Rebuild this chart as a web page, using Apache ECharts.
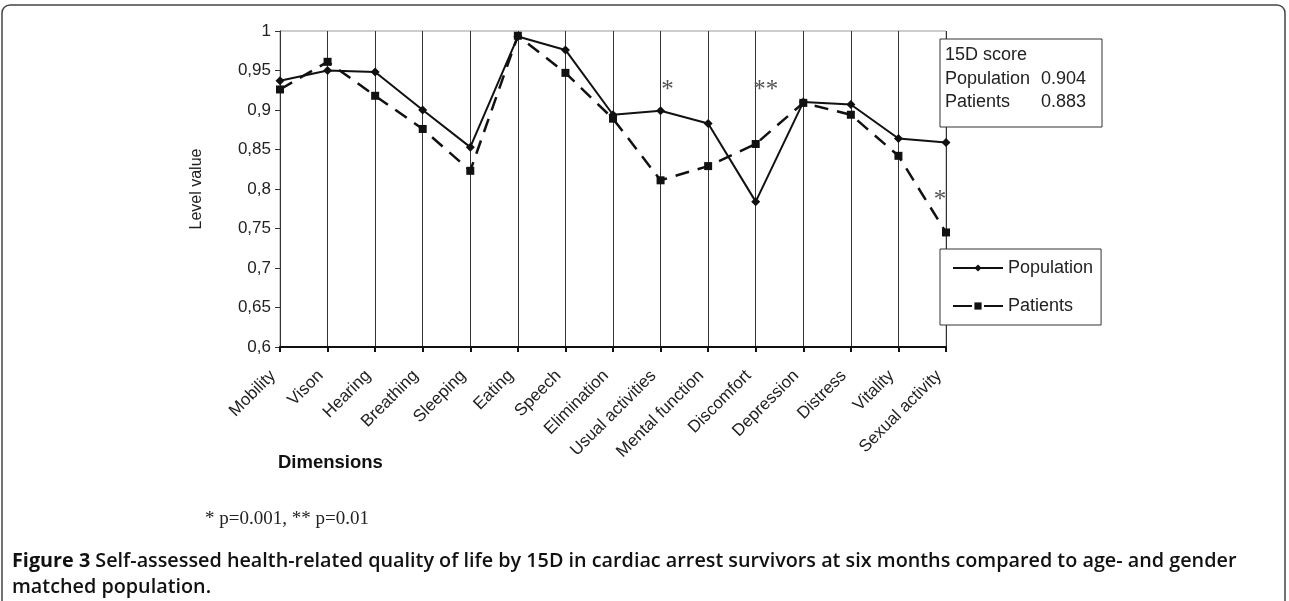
<!DOCTYPE html>
<html>
<head>
<meta charset="utf-8">
<script src="https://cdn.jsdelivr.net/npm/echarts@6/dist/echarts.min.js"></script>
<style>
html,body{margin:0;padding:0;background:#fff;}
#chart{width:1289px;height:601px;}
</style>
</head>
<body>
<div id="chart"></div>
<script>
var categories = ['Mobility','Vison','Hearing','Breathing','Sleeping','Eating','Speech','Elimination','Usual activities','Mental function','Discomfort','Depression','Distress','Vitality','Sexual activity'];
var population = [0.937,0.950,0.948,0.900,0.853,0.993,0.976,0.894,0.899,0.883,0.784,0.910,0.907,0.864,0.859];
var patients   = [0.926,0.961,0.918,0.876,0.823,0.994,0.947,0.889,0.811,0.829,0.857,0.909,0.894,0.842,0.745];
var scoreTitle = '15D score';
var scoreNames = ['Population','Patients'];
var scoreValues = ['0.904','0.883'];
var footnote = '* p=0.001, ** p=0.01';
var captionLead = 'Figure 3';
var caption1 = ' Self-assessed health-related quality of life by 15D in cardiac arrest survivors at six months compared to age- and gender';
var caption2 = 'matched population.';

var chart = echarts.init(document.getElementById('chart'), null, {renderer:'canvas'});
var sans = 'Liberation Sans, Arial, sans-serif';
var capFont = 'Open Sans, Noto Sans, sans-serif';
var starLabel = {show:true,color:'#555',fontSize:25,fontFamily:'Liberation Serif, serif',formatter:function(p){return p.name;}};
var option = {
  animation:false,
  backgroundColor:'#fff',
  grid:{left:280,right:343,top:31,bottom:254,show:true,borderColor:'#999',borderWidth:1},
  xAxis:{
    type:'category', data:categories, boundaryGap:false,
    axisLine:{lineStyle:{color:'#111',width:2}},
    axisTick:{show:true,length:5,lineStyle:{color:'#111',width:2}},
    splitLine:{show:true,lineStyle:{color:'#333',width:1}},
    axisLabel:{rotate:45,fontSize:17,color:'#222',fontFamily:sans,margin:19,interval:0,padding:[0,10,0,0]}
  },
  yAxis:{
    type:'value', min:0.6, max:1, interval:0.05,
    axisLine:{show:true,lineStyle:{color:'#333',width:1}},
    axisTick:{show:true,length:5,lineStyle:{color:'#333'}},
    splitLine:{show:false},
    axisLabel:{fontSize:17,color:'#222',fontFamily:sans,margin:9,
      formatter:function(v){return String(+v.toFixed(2)).replace('.',',');}},
    name:'Level value', nameLocation:'middle', nameGap:75, nameRotate:90,
    nameTextStyle:{fontSize:16,color:'#222',fontFamily:sans}
  },
  legend:{
    orient:'vertical', left:940, top:249, itemWidth:50, itemHeight:9, itemGap:20,
    padding:[10,8,10,12], borderColor:'#333', borderWidth:1, backgroundColor:'#fff',
    textStyle:{fontSize:18,color:'#222',fontFamily:sans},
    data:[{name:'Population'},{name:'Patients',lineStyle:{type:[19,12]}}]
  },
  series:[
    {name:'Population',type:'line',data:population,symbol:'diamond',symbolSize:9,
     lineStyle:{color:'#111',width:2},itemStyle:{color:'#111'},z:3,
     markPoint:{symbol:'circle',symbolSize:0,label:starLabel,
       data:[{name:'*',coord:['Usual activities',0.925],label:{offset:[7,0]}},
             {name:'**',coord:['Discomfort',0.925],label:{offset:[10,0]}}]}
    },
    {name:'Patients',type:'line',data:patients,symbol:'rect',symbolSize:8,
     lineStyle:{color:'#111',width:2.5,type:[14,9]},itemStyle:{color:'#111'},z:2,
     markPoint:{symbol:'circle',symbolSize:0,label:starLabel,
       data:[{name:'*',coord:['Sexual activity',0.785],label:{offset:[-6,0]}}]}
    }
  ],
  graphic:[
    {type:'rect',shape:{x:2,y:5,width:1283,height:620,r:8},style:{fill:'none',stroke:'#444',lineWidth:1.5},z:-1,silent:true},
    {type:'rect',shape:{x:940,y:39,width:162,height:88},style:{fill:'#fff',stroke:'#333',lineWidth:1},z:10},
    {type:'text',left:945,top:46,style:{text:scoreTitle,fontSize:18,fill:'#222',fontFamily:sans},z:11},
    {type:'text',left:945,top:70,style:{text:scoreNames[0],fontSize:18,fill:'#222',fontFamily:sans},z:11},
    {type:'text',left:1041,top:70,style:{text:scoreValues[0],fontSize:18,fill:'#222',fontFamily:sans},z:11},
    {type:'text',left:945,top:93,style:{text:scoreNames[1],fontSize:18,fill:'#222',fontFamily:sans},z:11},
    {type:'text',left:1041,top:93,style:{text:scoreValues[1],fontSize:18,fill:'#222',fontFamily:sans},z:11},
    {type:'text',left:278,top:453,style:{text:'Dimensions',fontSize:18.5,fontWeight:'bold',fill:'#111',fontFamily:sans}},
    {type:'text',left:205,top:510,style:{text:footnote,fontSize:19,fill:'#222',fontFamily:'Liberation Serif, serif'}},
    {type:'text',left:12,top:551,style:{text:'{a|'+captionLead+'}{b|'+caption1+'}',
      rich:{a:{fontSize:19.8,fontWeight:'bold',fill:'#111',fontFamily:capFont},
            b:{fontSize:19.8,fontWeight:600,fill:'#111',fontFamily:capFont}}}},
    {type:'text',left:12,top:577,style:{text:caption2,fontSize:19.8,fontWeight:600,fill:'#111',fontFamily:capFont}}
  ]
};
chart.setOption(option);
</script>
</body>
</html>
